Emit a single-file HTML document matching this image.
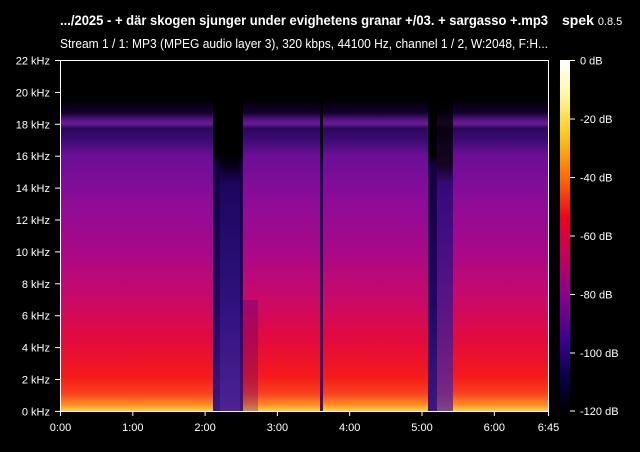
<!DOCTYPE html>
<html><head><meta charset="utf-8"><style>
html,body{margin:0;padding:0;background:#000;}
svg{display:block;}
text{font-family:"Liberation Sans",sans-serif;fill:#fff;}
</style></head><body>
<svg width="640" height="452" viewBox="0 0 640 452" xmlns="http://www.w3.org/2000/svg">
<defs>
<linearGradient id="sp" x1="0" y1="60" x2="0" y2="411" gradientUnits="userSpaceOnUse">
<stop offset="0" stop-color="#000"/>
<stop offset="0.11" stop-color="#000"/>
<stop offset="0.15" stop-color="#12002e"/>
<stop offset="0.172" stop-color="#5a1488"/>
<stop offset="0.182" stop-color="#6a1a96"/>
<stop offset="0.195" stop-color="#2a0858"/>
<stop offset="0.225" stop-color="#3a0a72"/>
<stop offset="0.27" stop-color="#6a0e96"/>
<stop offset="0.4" stop-color="#8c0c98"/>
<stop offset="0.55" stop-color="#aa0888"/>
<stop offset="0.68" stop-color="#c80a68"/>
<stop offset="0.8" stop-color="#e40a3c"/>
<stop offset="0.9" stop-color="#f41a1a"/>
<stop offset="0.95" stop-color="#f84020"/>
<stop offset="0.98" stop-color="#ff8820"/>
<stop offset="1" stop-color="#ffd040"/>
</linearGradient>
<linearGradient id="dk" x1="0" y1="60" x2="0" y2="411" gradientUnits="userSpaceOnUse">
<stop offset="0" stop-color="#000"/>
<stop offset="0.27" stop-color="#000"/>
<stop offset="0.3" stop-color="#140040"/>
<stop offset="0.7" stop-color="#200860"/>
<stop offset="1" stop-color="#3a1880"/>
</linearGradient>
<linearGradient id="pu" x1="0" y1="60" x2="0" y2="411" gradientUnits="userSpaceOnUse">
<stop offset="0" stop-color="#000"/>
<stop offset="0.3" stop-color="#000"/>
<stop offset="0.35" stop-color="#200870"/>
<stop offset="0.7" stop-color="#3a1890"/>
<stop offset="1" stop-color="#5a28a0"/>
</linearGradient>
<linearGradient id="cb" x1="0" y1="60" x2="0" y2="411" gradientUnits="userSpaceOnUse">
<stop offset="0" stop-color="#ffffff"/>
<stop offset="0.1" stop-color="#fff8a0"/>
<stop offset="0.2" stop-color="#ffd020"/>
<stop offset="0.33" stop-color="#ff7000"/>
<stop offset="0.45" stop-color="#ee0020"/>
<stop offset="0.55" stop-color="#c8005a"/>
<stop offset="0.67" stop-color="#8a0090"/>
<stop offset="0.8" stop-color="#3c0090"/>
<stop offset="0.9" stop-color="#0a0048"/>
<stop offset="1" stop-color="#000"/>
</linearGradient>
</defs>
<text x="60" y="25" font-size="14" font-weight="bold" textLength="488" lengthAdjust="spacingAndGlyphs">.../2025 - + där skogen sjunger under evighetens granar +/03. + sargasso +.mp3</text>
<text x="562" y="25" font-size="14" font-weight="bold">spek <tspan font-size="11" font-weight="normal">0.8.5</tspan></text>
<text x="60" y="48" font-size="12.5" textLength="488" lengthAdjust="spacingAndGlyphs">Stream 1 / 1: MP3 (MPEG audio layer 3), 320 kbps, 44100 Hz, channel 1 / 2, W:2048, F:H...</text>

<rect x="60" y="60" width="488" height="351" fill="url(#sp)"/>
<rect x="213" y="60" width="30" height="351" fill="url(#dk)"/>
<rect x="220" y="157" width="20" height="254" fill="url(#pu)" opacity="0.6"/>
<rect x="243" y="300" width="15" height="111" fill="#400080" opacity="0.3"/>
<rect x="320" y="60" width="3" height="351" fill="url(#dk)"/>
<rect x="428" y="60" width="9" height="351" fill="url(#dk)"/>
<rect x="437" y="60" width="16" height="351" fill="url(#pu)" opacity="0.8"/>

<rect x="60.5" y="60.5" width="488" height="351" fill="none" stroke="#fff" stroke-width="1"/>
<g stroke="#fff" stroke-width="1">
<line x1="55" y1="60.5" x2="60" y2="60.5"/><line x1="55" y1="92.4" x2="60" y2="92.4"/>
<line x1="55" y1="124.3" x2="60" y2="124.3"/><line x1="55" y1="156.2" x2="60" y2="156.2"/>
<line x1="55" y1="188.1" x2="60" y2="188.1"/><line x1="55" y1="220" x2="60" y2="220"/>
<line x1="55" y1="251.9" x2="60" y2="251.9"/><line x1="55" y1="283.8" x2="60" y2="283.8"/>
<line x1="55" y1="315.7" x2="60" y2="315.7"/><line x1="55" y1="347.6" x2="60" y2="347.6"/>
<line x1="55" y1="379.5" x2="60" y2="379.5"/><line x1="55" y1="411.4" x2="60" y2="411.4"/>
<line x1="60.5" y1="411" x2="60.5" y2="416"/><line x1="132.8" y1="411" x2="132.8" y2="416"/>
<line x1="205.1" y1="411" x2="205.1" y2="416"/><line x1="277.4" y1="411" x2="277.4" y2="416"/>
<line x1="349.7" y1="411" x2="349.7" y2="416"/><line x1="422" y1="411" x2="422" y2="416"/>
<line x1="494.3" y1="411" x2="494.3" y2="416"/><line x1="548.5" y1="411" x2="548.5" y2="416"/>
<line x1="570" y1="60.5" x2="575" y2="60.5"/><line x1="570" y1="119" x2="575" y2="119"/>
<line x1="570" y1="177.5" x2="575" y2="177.5"/><line x1="570" y1="236" x2="575" y2="236"/>
<line x1="570" y1="294.5" x2="575" y2="294.5"/><line x1="570" y1="353" x2="575" y2="353"/>
<line x1="570" y1="411" x2="575" y2="411"/>
</g>
<g font-size="11" text-anchor="end">
<text x="50" y="64.5">22 kHz</text><text x="50" y="96.4">20 kHz</text>
<text x="50" y="128.3">18 kHz</text><text x="50" y="160.2">16 kHz</text>
<text x="50" y="192.1">14 kHz</text><text x="50" y="224">12 kHz</text>
<text x="50" y="255.9">10 kHz</text><text x="50" y="287.8">8 kHz</text>
<text x="50" y="319.7">6 kHz</text><text x="50" y="351.6">4 kHz</text>
<text x="50" y="383.5">2 kHz</text><text x="50" y="415.4">0 kHz</text>
</g>
<g font-size="11" text-anchor="middle">
<text x="60.5" y="431">0:00</text><text x="132.8" y="431">1:00</text>
<text x="205.1" y="431">2:00</text><text x="277.4" y="431">3:00</text>
<text x="349.7" y="431">4:00</text><text x="422" y="431">5:00</text>
<text x="494.3" y="431">6:00</text><text x="548.5" y="431">6:45</text>
</g>
<rect x="560" y="60" width="10" height="351" fill="url(#cb)"/>
<g font-size="11">
<text x="580" y="64.5">0 dB</text><text x="580" y="123">-20 dB</text>
<text x="580" y="181.5">-40 dB</text><text x="580" y="240">-60 dB</text>
<text x="580" y="298.5">-80 dB</text><text x="580" y="357">-100 dB</text>
<text x="580" y="415">-120 dB</text>
</g>
</svg>
</body></html>
